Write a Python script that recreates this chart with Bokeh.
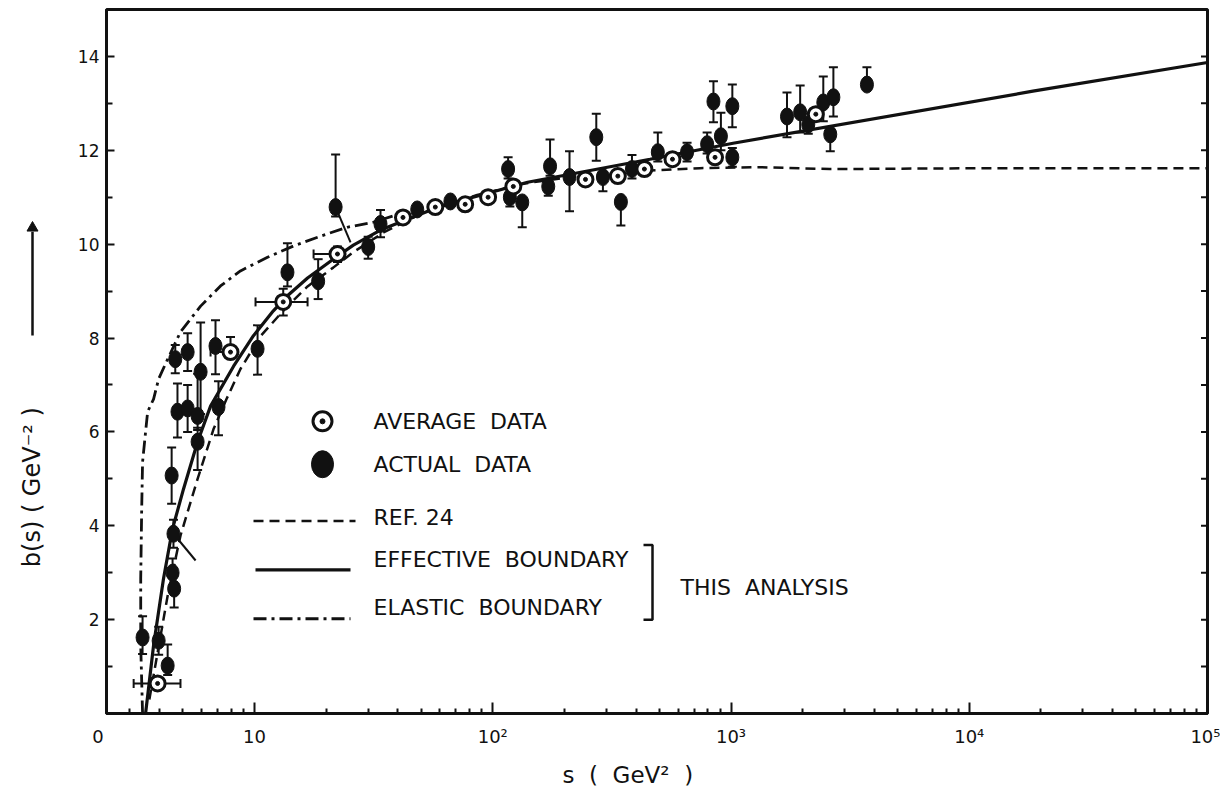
import numpy as np
from bokeh.plotting import figure
from bokeh.layouts import row
from bokeh.models import (ColumnDataSource, FixedTicker, Range1d, Whisker, TeeHead)
from bokeh.embed import file_html
from bokeh.resources import INLINE
from bokeh.core.properties import value

# ---------------- data ----------------
# Effective boundary (solid)
eff_s = [3.49, 3.77, 4.15, 4.53, 5.04, 5.77, 6.54, 8.17, 9.9, 12.0, 13.75, 16.7, 21.4, 26.0,
         33.8, 60.3, 140, 457, 1020, 18500, 1e5]
eff_b = [0.0, 1.45, 2.87, 3.94, 4.79, 5.79, 6.55, 7.40, 8.05, 8.58, 8.90, 9.28, 9.68, 9.98,
         10.30, 10.81, 11.32, 11.81, 12.15, 13.26, 13.87]
# Ref. 24 (dashed)
ref_s = [3.62, 4.32, 4.89, 5.77, 6.73, 7.63, 8.73, 10.6, 13.75, 16.7, 21.4, 26.0, 34.8, 50.0,
         86.0, 139, 283, 740, 1310, 2600, 13500, 1e5]
ref_b = [0.3, 2.51, 3.79, 5.0, 6.06, 6.70, 7.34, 8.04, 8.68, 9.10, 9.50, 9.83, 10.25, 10.65,
         11.05, 11.30, 11.52, 11.62, 11.64, 11.60, 11.62, 11.62]
# Elastic boundary (dash-dot)
el_s = [3.39, 3.33, 3.33, 3.36, 3.39, 3.56, 3.77, 3.96, 4.32, 4.89, 5.94, 7.2, 8.73, 11.34,
        14.57, 18.91, 24.5, 31.6, 40.9]
el_b = [0.0, 1.45, 2.87, 4.30, 5.36, 6.43, 6.70, 7.13, 7.55, 8.13, 8.68, 9.11, 9.43, 9.72,
        9.96, 10.17, 10.36, 10.47, 10.65]

# Actual data (filled)
act_s = [3.39, 3.96, 4.32, 4.53, 4.60, 4.57, 4.49, 5.77, 4.75, 5.24,
         5.77, 7.06, 4.65, 5.24, 5.94, 6.86, 10.3, 13.75, 18.5, 21.9,
         30.0, 33.8, 48.2, 66.4, 116, 118, 133, 174, 171, 210,
         272, 290, 345, 384, 493, 654, 794, 844, 907, 1013,
         1013, 1718, 1951, 2110, 2440, 2690, 2610, 3720]
act_b = [1.62, 1.55, 1.02, 3.00, 2.66, 3.83, 5.07, 5.79, 6.43, 6.50,
         6.34, 6.53, 7.55, 7.70, 7.28, 7.83, 7.77, 9.40, 9.21, 10.79,
         9.94, 10.43, 10.74, 10.91, 11.60, 11.00, 10.89, 11.66, 11.23, 11.43,
         12.28, 11.43, 10.90, 11.60, 11.96, 11.96, 12.13, 13.04, 12.30, 12.94,
         11.85, 12.72, 12.81, 12.55, 13.02, 13.13, 12.34, 13.40]
act_up = [0.45, 0.30, 0.45, 0.30, 0.30, 0.30, 0.60, 0.30, 0.60, 0.50,
          0.90, 0.55, 0.30, 0.40, 1.05, 0.55, 0.50, 0.62, 0.47, 1.12,
          0.22, 0.30, 0, 0, 0.25, 0, 0, 0.57, 0, 0.55,
          0.50, 0, 0, 0.30, 0.42, 0.20, 0.25, 0.43, 0.50, 0.46,
          0.20, 0.51, 0.57, 0, 0.55, 0.64, 0, 0.37]
act_dn = [0.35, 0.30, 0.20, 0.30, 0.40, 0.30, 0.60, 0.60, 0.55, 0.50,
          0.30, 0.60, 0.30, 0.40, 0.90, 0.60, 0.55, 0.30, 0.38, 0.20,
          0.25, 0.28, 0, 0, 0.20, 0.20, 0.53, 0.20, 0.20, 0.73,
          0.50, 0.30, 0.50, 0.20, 0.20, 0.20, 0.20, 0.44, 0.30, 0.45,
          0.20, 0.44, 0.43, 0.20, 0.40, 0.41, 0.36, 0.10]

# Average data (open circle with dot)
avg_s = [3.92, 7.93, 13.2, 22.3, 42.0, 57.4, 76.6, 95.6, 122, 245, 335, 433, 568, 857, 2270]
avg_b = [0.64, 7.70, 8.77, 9.79, 10.57, 10.79, 10.85, 11.00, 11.23, 11.38, 11.45, 11.60,
         11.81, 11.85, 12.77]
# horizontal bars on some averages
hb_s_lo = [3.11, 6.54, 10.1, 17.7]
hb_s_hi = [4.89, 7.93, 16.7, 24.0]
hb_b = [0.64, 7.70, 8.77, 9.79]
# vertical bars on some averages
vb_s = [7.93, 13.2, 22.3]
vb_lo = [7.70, 8.48, 9.62]
vb_hi = [8.02, 9.05, 9.95]
# connecting strokes
link_s0 = [21.9, 4.57]
link_b0 = [10.79, 3.83]
link_s1 = [25.3, 5.66]
link_b1 = [10.04, 3.26]

x_ticks = [10, 100, 1000, 10000, 100000]
x_tick_labels = ["10", "10²", "10³", "10⁴", "10⁵"]
y_ticks = [2, 4, 6, 8, 10, 12, 14]
y_minor = [1, 3, 5, 7, 9, 11, 13]
right_ticks = list(range(1, 15))

# ---------------- layout ----------------
INK = "#111111"
FONT = "DejaVu Sans"
NB = "\u00a0"
H = 790
LW = 60                      # width of the left strip (arrow + y title)
W2 = 1160                    # main figure width
FL, FR, FT, FB = 106, 1207, 9, 715   # frame edges on the page
X0 = 10 ** (1 - (254 - FL) / ((FR - 254) / 4.0))
X1 = 1e5
DEC = (FR - FL) / (np.log10(X1) - np.log10(X0))


def S(px):  # page pixel -> s
    return 10 ** (np.log10(X0) + (px - FL) / DEC)


def B(py):  # page pixel -> b
    return 15.0 * (FB - py) / (FB - FT)


# ---------------- left strip: arrow and y title (same vertical scale as the plot) ----
lf = figure(width=LW, height=H, x_range=Range1d(0, LW), y_range=Range1d(0, 15),
            x_axis_location=None, y_axis_location=None,
            output_backend="svg", toolbar_location=None,
            min_border_left=0, min_border_right=0, min_border_top=FT,
            min_border_bottom=H - FB)
lf.grid.visible = False
lf.outline_line_color = None
lf.background_fill_color = "white"
lf.border_fill_color = "white"
lf.text([31], [B(488)], text=["b(s)" + NB + "(" + NB + "GeV⁻²" + NB + ")"],
        angle=np.pi / 2, text_align="center", text_baseline="middle",
        text_font=value(FONT), text_font_size="24px", text_color=INK)
lf.line([32, 32], [B(336), B(232)], line_color=INK, line_width=2.5)
lf.scatter([32], [B(228)], marker="triangle", size=11, fill_color=INK, line_color=INK)

# ---------------- main figure ----------------
p = figure(width=W2, height=H, x_axis_type="log", x_range=Range1d(X0, X1),
           y_range=Range1d(0, 15), output_backend="svg", toolbar_location=None,
           min_border_left=FL - LW, min_border_right=LW + W2 - FR, min_border_top=FT,
           min_border_bottom=H - FB)
p.background_fill_color = "white"
p.border_fill_color = "white"
p.outline_line_color = INK
p.outline_line_width = 3
p.xgrid.visible = False
p.ygrid.visible = False

minor_x = []
for d in [1, 10, 100, 1000, 10000]:
    for k in range(2, 10):
        v = k * d
        if v > X0:
            minor_x.append(v)

x0_tick = X0 * 1.0005
xa = p.xaxis[0]
xa.ticker = FixedTicker(ticks=[x0_tick] + x_ticks, minor_ticks=minor_x)
ov = {float(t): l for t, l in zip(x_ticks, x_tick_labels)}
ov[float(x0_tick)] = "0" + NB * 3
xa.major_label_overrides = ov
xa.major_tick_in = 11
xa.major_tick_out = 0
xa.minor_tick_in = 5
xa.minor_tick_out = 0
xa.major_tick_line_width = 2
xa.minor_tick_line_width = 2
xa.major_tick_line_color = INK
xa.minor_tick_line_color = INK
xa.axis_line_color = INK
xa.axis_line_width = 3
xa.major_label_text_font = FONT
xa.major_label_text_font_size = "18px"
xa.major_label_text_color = INK
xa.major_label_standoff = 12
xa.axis_label = "s" + NB * 2 + "(" + NB * 2 + "GeV²" + NB * 2 + ")" + NB * 8
xa.axis_label_text_font = FONT
xa.axis_label_text_font_style = "normal"
xa.axis_label_text_font_size = "23px"
xa.axis_label_text_color = INK
xa.axis_label_standoff = 12

ya = p.yaxis[0]
ya.ticker = FixedTicker(ticks=y_ticks, minor_ticks=y_minor)
ya.major_tick_in = 8
ya.major_tick_out = 0
ya.minor_tick_in = 6
ya.minor_tick_out = 0
ya.major_tick_line_width = 2
ya.minor_tick_line_width = 2
ya.major_tick_line_color = INK
ya.minor_tick_line_color = INK
ya.axis_line_color = INK
ya.axis_line_width = 3
ya.major_label_text_font = FONT
ya.major_label_text_font_size = "17px"
ya.major_label_text_color = INK
ya.major_label_standoff = 7

# right-hand frame ticks (each unit of b)
p.scatter([X1] * len(right_ticks), right_ticks, marker="dash", size=13, line_width=2,
          line_color=INK)

# ---------------- curves ----------------
p.line(ref_s, ref_b, line_color=INK, line_width=2.5, line_dash="10 6")
p.line(el_s, el_b, line_color=INK, line_width=2.8, line_dash="13 5 3 5")
p.line(eff_s, eff_b, line_color=INK, line_width=3.2)

# ---------------- error bars ----------------
act_src = ColumnDataSource(dict(
    s=act_s, b=act_b,
    hi=[b + u for b, u in zip(act_b, act_up)],
    lo=[b - d for b, d in zip(act_b, act_dn)]))
p.add_layout(Whisker(source=act_src, base="s", upper="hi", lower="lo", dimension="height",
                     line_color=INK, line_width=2,
                     upper_head=TeeHead(size=9, line_width=2, line_color=INK),
                     lower_head=TeeHead(size=9, line_width=2, line_color=INK)))
hb_src = ColumnDataSource(dict(b=hb_b, lo=hb_s_lo, hi=hb_s_hi))
p.add_layout(Whisker(source=hb_src, base="b", upper="hi", lower="lo", dimension="width",
                     line_color=INK, line_width=2,
                     upper_head=TeeHead(size=9, line_width=2, line_color=INK),
                     lower_head=TeeHead(size=9, line_width=2, line_color=INK)))
vb_src = ColumnDataSource(dict(s=vb_s, lo=vb_lo, hi=vb_hi))
p.add_layout(Whisker(source=vb_src, base="s", upper="hi", lower="lo", dimension="height",
                     line_color=INK, line_width=2,
                     upper_head=TeeHead(size=9, line_width=2, line_color=INK),
                     lower_head=TeeHead(size=9, line_width=2, line_color=INK)))
p.segment(link_s0, link_b0, link_s1, link_b1, line_color=INK, line_width=2)

# ---------------- markers ----------------
p.ellipse(x="s", y="b", source=act_src, width=13, height=17, width_units="screen",
          height_units="screen", fill_color=INK, line_color=INK)
p.scatter(avg_s, avg_b, marker="circle", size=15, fill_color="white", line_color=INK,
          line_width=3)
p.scatter(avg_s, avg_b, marker="circle", size=4, fill_color=INK, line_color=INK)

# ---------------- legend (drawn) ----------------
p.scatter([S(322)], [B(422)], marker="circle", size=19, fill_color="white", line_color=INK,
          line_width=3)
p.scatter([S(322)], [B(422)], marker="circle", size=5, fill_color=INK, line_color=INK)
p.ellipse([S(322)], [B(465)], width=22, height=27, width_units="screen",
          height_units="screen", fill_color=INK, line_color=INK)
p.line([S(253), S(355)], [B(522), B(522)], line_color=INK, line_width=2.5, line_dash="10 6")
p.line([S(255), S(350)], [B(571), B(571)], line_color=INK, line_width=3.2)
p.line([S(253), S(350)], [B(620), B(620)], line_color=INK, line_width=2.8,
       line_dash="13 5 3 5")
p.line([S(643), S(652), S(652), S(643)], [B(546), B(546), B(621), B(621)],
       line_color=INK, line_width=2.5)

leg_text = ["AVERAGE" + NB + NB + "DATA", "ACTUAL" + NB + NB + "DATA", "REF." + NB + "24",
            "EFFECTIVE" + NB + NB + "BOUNDARY", "ELASTIC" + NB + NB + "BOUNDARY",
            "THIS" + NB + NB + "ANALYSIS"]
leg_x = [S(373), S(373), S(373), S(373), S(373), S(680)]
leg_y = [B(422), B(465), B(518), B(561), B(609), B(589)]
p.text(leg_x, leg_y, text=leg_text, text_font=value(FONT), text_font_size="22px",
       text_color=INK, text_baseline="middle", text_align="left")

layout = row(lf, p)
open("out.html", "w").write(file_html(layout, INLINE))
